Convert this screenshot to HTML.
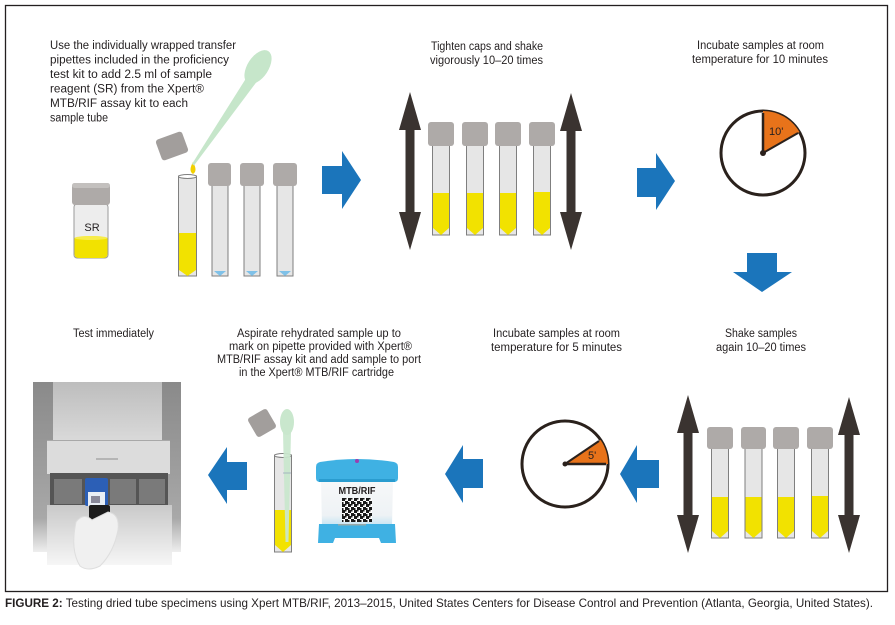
<!DOCTYPE html>
<html>
<head>
<meta charset="utf-8">
<style>
  html,body{margin:0;padding:0;background:#fff;}
  svg{display:block;}
  text{font-family:"Liberation Sans", sans-serif; fill:#231f20;}
</style>
</head>
<body>
<svg width="895" height="625" viewBox="0 0 895 625" xmlns="http://www.w3.org/2000/svg">
  <defs>
    <pattern id="qr" x="342" y="498" width="6" height="6" patternUnits="userSpaceOnUse">
      <rect width="6" height="6" fill="#fff"/>
      <rect x="0" y="0" width="3" height="3" fill="#1a1a1a"/>
      <rect x="3" y="3" width="3" height="3" fill="#1a1a1a"/>
      <rect x="3" y="0" width="1.5" height="1.5" fill="#1a1a1a"/>
      <rect x="0" y="4" width="1.5" height="2" fill="#1a1a1a"/>
    </pattern>
    <linearGradient id="lid" x1="0" y1="0" x2="0" y2="1">
      <stop offset="0" stop-color="#bdbdbd"/>
      <stop offset="1" stop-color="#d9d9d9"/>
    </linearGradient>
    <linearGradient id="lower" x1="0" y1="0" x2="0" y2="1">
      <stop offset="0" stop-color="#c9c9c9"/>
      <stop offset="1" stop-color="#f6f6f6"/>
    </linearGradient>
    <linearGradient id="side" x1="0" y1="0" x2="0" y2="1">
      <stop offset="0" stop-color="#8a8a8a"/>
      <stop offset="0.8" stop-color="#a8a8a8"/>
      <stop offset="1" stop-color="#eeeeee"/>
    </linearGradient>
    <linearGradient id="label" x1="0" y1="0" x2="0" y2="1">
      <stop offset="0" stop-color="#f7f8f9"/>
      <stop offset="0.75" stop-color="#eef2f5"/>
      <stop offset="1" stop-color="#bfe3f3"/>
    </linearGradient>
  </defs>

  <!-- frame -->
  <rect x="5.5" y="5.5" width="882" height="586" fill="none" stroke="#231f20" stroke-width="1.3"/>

  <!-- ============ TOP LEFT STEP ============ -->
  <g font-size="11.5">
    <text x="50" y="49" textLength="186" lengthAdjust="spacingAndGlyphs">Use the individually wrapped transfer</text>
    <text x="50" y="63.5" textLength="179" lengthAdjust="spacingAndGlyphs">pipettes included in the proficiency</text>
    <text x="50" y="78" textLength="162" lengthAdjust="spacingAndGlyphs">test kit to add 2.5 ml of sample</text>
    <text x="50" y="92.5" textLength="154" lengthAdjust="spacingAndGlyphs">reagent (SR) from the Xpert®</text>
    <text x="50" y="107" textLength="138" lengthAdjust="spacingAndGlyphs">MTB/RIF assay kit to each</text>
    <text x="50" y="121.5" textLength="58" lengthAdjust="spacingAndGlyphs">sample tube</text>
  </g>

  <!-- SR jar -->
  <rect x="74" y="204" width="34" height="54" rx="3" fill="#ededed" stroke="#9a9a9a" stroke-width="1"/>
  <path d="M74.5,238 Q91,234 107.5,238 L107.5,254 Q107.5,258 103,258 L79,258 Q74.5,258 74.5,254 Z" fill="#f2e200"/>
  <ellipse cx="91" cy="238" rx="16.5" ry="2" fill="#f7ec4a"/>
  <rect x="72" y="183" width="38" height="22" rx="3" fill="#aeaaa8"/>
  <rect x="72" y="183" width="38" height="5" rx="2.5" fill="#c3c0be"/>
  <text x="92" y="231" font-size="11" text-anchor="middle">SR</text>

  <!-- loose cap -->
  <g transform="rotate(-20 172 146)">
    <rect x="158" y="135" width="28" height="22" rx="3" fill="#a29e9c"/>
  </g>

  <!-- first open tube -->
  <rect x="178.5" y="176" width="18" height="100" fill="#e6e6e6" stroke="#7f7f7f" stroke-width="1"/>
  <path d="M179,233 L196,233 L196,270 L187.5,276 L179,270 Z" fill="#f2e200"/>
  <ellipse cx="187.5" cy="176.5" rx="9" ry="2" fill="#fff" stroke="#7f7f7f" stroke-width="1"/>
  <!-- drop -->
  <path d="M193,162 Q198,171 193,174 Q188,171 193,162 Z" fill="#f2d000"/>
  <!-- pipette -->
  <polygon points="256.5,82 247.5,76 192,164 194,165.5" fill="#c6e6ca"/>
  <ellipse cx="258" cy="67" rx="10.5" ry="19" transform="rotate(33 258 67)" fill="#c6e6ca"/>

  <!-- three capped empty tubes -->
  <g>
    <rect x="212" y="184" width="16" height="92" fill="#e6e6e6" stroke="#7f7f7f" stroke-width="1"/>
    <path d="M214,271 L226,271 L220,276 Z" fill="#7fc1e8"/>
    <rect x="208" y="163" width="23" height="23" rx="3" fill="#aeaaa8"/>
    <rect x="244" y="184" width="16" height="92" fill="#e6e6e6" stroke="#7f7f7f" stroke-width="1"/>
    <path d="M246,271 L258,271 L252,276 Z" fill="#7fc1e8"/>
    <rect x="240" y="163" width="24" height="23" rx="3" fill="#aeaaa8"/>
    <rect x="277" y="184" width="16" height="92" fill="#e6e6e6" stroke="#7f7f7f" stroke-width="1"/>
    <path d="M279,271 L291,271 L285,276 Z" fill="#7fc1e8"/>
    <rect x="273" y="163" width="24" height="23" rx="3" fill="#aeaaa8"/>
  </g>

  <!-- blue arrow 1 -->
  <polygon points="322,166 342,166 342,151 361,180 342,209 342,194 322,194" fill="#1b75bb"/>

  <!-- ============ TOP CENTER STEP ============ -->
  <g font-size="11.5">
    <text x="431" y="50" textLength="112" lengthAdjust="spacingAndGlyphs">Tighten caps and shake</text>
    <text x="430" y="64" textLength="113" lengthAdjust="spacingAndGlyphs">vigorously 10–20 times</text>
  </g>
  <!-- double arrows -->
  <polygon points="410,92 421,130 414.5,130 414.5,212 421,212 410,250 399,212 405.5,212 405.5,130 399,130" fill="#3a3330"/>
  <polygon points="571,93 582,131 575.5,131 575.5,212 582,212 571,250 560,212 566.5,212 566.5,131 560,131" fill="#3a3330"/>
  <!-- tubes -->
  <g>
    <rect x="432.5" y="145" width="17" height="90" fill="#e6e6e6" stroke="#7f7f7f" stroke-width="1"/>
    <path d="M433,193 L449,193 L449,228 L441,235 L433,228 Z" fill="#f2e200"/>
    <rect x="428" y="122" width="26" height="24" rx="3" fill="#aeaaa8"/>

    <rect x="466.5" y="145" width="17" height="90" fill="#e6e6e6" stroke="#7f7f7f" stroke-width="1"/>
    <path d="M467,193 L483,193 L483,228 L475,235 L467,228 Z" fill="#f2e200"/>
    <rect x="462" y="122" width="26" height="24" rx="3" fill="#aeaaa8"/>

    <rect x="499.5" y="145" width="17" height="90" fill="#e6e6e6" stroke="#7f7f7f" stroke-width="1"/>
    <path d="M500,193 L516,193 L516,228 L508,235 L500,228 Z" fill="#f2e200"/>
    <rect x="495" y="122" width="26" height="24" rx="3" fill="#aeaaa8"/>

    <rect x="533.5" y="145" width="17" height="90" fill="#e6e6e6" stroke="#7f7f7f" stroke-width="1"/>
    <path d="M534,192 L550,192 L550,228 L542,235 L534,228 Z" fill="#f2e200"/>
    <rect x="529" y="122" width="26" height="24" rx="3" fill="#aeaaa8"/>
  </g>

  <!-- blue arrow 2 -->
  <polygon points="637,168 656,168 656,153 675,181 656,210 656,197 637,197" fill="#1b75bb"/>

  <!-- ============ TOP RIGHT STEP ============ -->
  <g font-size="11.5">
    <text x="697" y="49" textLength="127" lengthAdjust="spacingAndGlyphs">Incubate samples at room</text>
    <text x="692" y="63" textLength="136" lengthAdjust="spacingAndGlyphs">temperature for 10 minutes</text>
  </g>
  <circle cx="763" cy="153" r="42" fill="#fff" stroke="#2a211c" stroke-width="3"/>
  <path d="M763,153 L763,111 A42,42 0 0 1 799.4,132 Z" fill="#e8731a"/>
  <line x1="763" y1="153" x2="763" y2="113" stroke="#2a211c" stroke-width="2.5"/>
  <line x1="763" y1="153" x2="798" y2="133" stroke="#2a211c" stroke-width="2"/>
  <circle cx="763" cy="153" r="3" fill="#2a211c"/>
  <text x="769" y="135" font-size="11">10'</text>

  <!-- down arrow -->
  <polygon points="747,253 777,253 777,272 792,272 762,292 733,272 747,272" fill="#1b75bb"/>

  <!-- ============ BOTTOM RIGHT STEP ============ -->
  <g font-size="11.5">
    <text x="725" y="337" textLength="72" lengthAdjust="spacingAndGlyphs">Shake samples</text>
    <text x="716" y="351" textLength="90" lengthAdjust="spacingAndGlyphs">again 10–20 times</text>
  </g>
  <polygon points="688,395 699,433 692.5,433 692.5,515 699,515 688,553 677,515 683.5,515 683.5,433 677,433" fill="#3a3330"/>
  <polygon points="849,397 860,435 853.5,435 853.5,515 860,515 849,553 838,515 844.5,515 844.5,435 838,435" fill="#3a3330"/>
  <g>
    <rect x="711.5" y="447" width="17" height="91" fill="#e6e6e6" stroke="#7f7f7f" stroke-width="1"/>
    <path d="M712,497 L728,497 L728,531 L720,538 L712,531 Z" fill="#f2e200"/>
    <rect x="707" y="427" width="26" height="22" rx="3" fill="#aeaaa8"/>

    <rect x="745" y="447" width="17" height="91" fill="#e6e6e6" stroke="#7f7f7f" stroke-width="1"/>
    <path d="M745.5,497 L761.5,497 L761.5,531 L753.5,538 L745.5,531 Z" fill="#f2e200"/>
    <rect x="741" y="427" width="25" height="22" rx="3" fill="#aeaaa8"/>

    <rect x="777.5" y="447" width="17" height="91" fill="#e6e6e6" stroke="#7f7f7f" stroke-width="1"/>
    <path d="M778,497 L794,497 L794,531 L786,538 L778,531 Z" fill="#f2e200"/>
    <rect x="773" y="427" width="26" height="22" rx="3" fill="#aeaaa8"/>

    <rect x="811.5" y="447" width="17" height="91" fill="#e6e6e6" stroke="#7f7f7f" stroke-width="1"/>
    <path d="M812,496 L828,496 L828,531 L820,538 L812,531 Z" fill="#f2e200"/>
    <rect x="807" y="427" width="26" height="22" rx="3" fill="#aeaaa8"/>
  </g>

  <!-- blue arrow bottom right (left-pointing) -->
  <polygon points="620,474 637,445 637,460 659,460 659,488 637,488 637,503" fill="#1b75bb"/>

  <!-- ============ BOTTOM MIDDLE-RIGHT STEP ============ -->
  <g font-size="11.5">
    <text x="493" y="337" textLength="127" lengthAdjust="spacingAndGlyphs">Incubate samples at room</text>
    <text x="491" y="351" textLength="131" lengthAdjust="spacingAndGlyphs">temperature for 5 minutes</text>
  </g>
  <circle cx="565" cy="464" r="43" fill="#fff" stroke="#2a211c" stroke-width="3"/>
  <path d="M565,464 L608,464 A43,43 0 0 0 600.6,440 Z" fill="#e8731a"/>
  <line x1="565" y1="464" x2="599" y2="441" stroke="#2a211c" stroke-width="2"/>
  <line x1="565" y1="464" x2="606" y2="464" stroke="#2a211c" stroke-width="2.5"/>
  <circle cx="565" cy="464" r="2.5" fill="#2a211c"/>
  <text x="588" y="459" font-size="11">5'</text>

  <!-- blue arrow bottom middle -->
  <polygon points="445,474 463,445 463,459 483,459 483,488 463,488 463,503" fill="#1b75bb"/>

  <!-- ============ BOTTOM MIDDLE-LEFT STEP ============ -->
  <g font-size="11.5">
    <text x="237" y="337" textLength="164" lengthAdjust="spacingAndGlyphs">Aspirate rehydrated sample up to</text>
    <text x="229" y="350" textLength="183" lengthAdjust="spacingAndGlyphs">mark on pipette provided with Xpert®</text>
    <text x="217" y="363" textLength="204" lengthAdjust="spacingAndGlyphs">MTB/RIF assay kit and add sample to port</text>
    <text x="239" y="376" textLength="155" lengthAdjust="spacingAndGlyphs">in the Xpert® MTB/RIF cartridge</text>
  </g>
  <!-- cap -->
  <g transform="rotate(-30 262 423)">
    <rect x="251" y="412" width="22" height="22" rx="3" fill="#a29e9c"/>
  </g>
  <!-- tube -->
  <rect x="274.5" y="455" width="17" height="97" fill="#e6e6e6" stroke="#7f7f7f" stroke-width="1"/>
  <path d="M275,510 L291,510 L291,545 L283,552 L275,545 Z" fill="#f2e200"/>
  <ellipse cx="283" cy="455.5" rx="8.5" ry="2" fill="#fff" stroke="#7f7f7f" stroke-width="1"/>
  <!-- pipette -->
  <polygon points="283,432 291,432 288.5,542 285.5,542" fill="#c9e7cd" opacity="0.92"/>
  <ellipse cx="287" cy="422" rx="7" ry="13" fill="#c9e7cd"/>
  <line x1="283" y1="473" x2="291" y2="473" stroke="#9ab" stroke-width="0.8"/>

  <!-- cartridge -->
  <path d="M321,480 L393,480 L392,527 L322,527 Z" fill="url(#label)"/>
  <path d="M320,462 Q357,456 394,462 Q398,463 398,467 L398,478 Q398,482 394,482 L320,482 Q316,482 316,478 L316,467 Q316,463 320,462 Z" fill="#3fb1e3"/>
  <rect x="319" y="479" width="76" height="3" fill="#2a9ccf"/>
  <circle cx="357" cy="461" r="2" fill="#9a3fb0"/>
  <path d="M319,524 L395,524 L396,543 L381,543 L379,538 L335,538 L333,543 L318,543 Z" fill="#3fb1e3"/>
  <text x="357" y="494" font-size="10.5" font-weight="bold" text-anchor="middle" fill="#333" textLength="37" lengthAdjust="spacingAndGlyphs">MTB/RIF</text>
  <rect x="342" y="498" width="30" height="24" fill="url(#qr)"/>
  <rect x="338" y="524" width="28" height="1.5" fill="#9aa"/>

  <!-- blue arrow bottom left -->
  <polygon points="208,475 227,447 227,462 247,462 247,490 227,490 227,504" fill="#1b75bb"/>

  <!-- ============ BOTTOM LEFT STEP ============ -->
  <text x="73" y="337" font-size="11.5" textLength="81" lengthAdjust="spacingAndGlyphs">Test immediately</text>
  <!-- machine -->
  <rect x="33" y="382" width="20" height="170" fill="url(#side)"/>
  <rect x="162" y="382" width="19" height="170" fill="url(#side)"/>
  <rect x="53" y="382" width="109" height="58" fill="url(#lid)"/>
  <path d="M47,440 L170,440 L170,474 L47,474 Z" fill="#dcdcdc"/>
  <line x1="47" y1="440.5" x2="170" y2="440.5" stroke="#a8a8a8" stroke-width="1"/>
  <rect x="96" y="458" width="22" height="2" fill="#b5b5b5"/>
  <rect x="50" y="473" width="118" height="33" fill="#555"/>
  <rect x="54" y="479" width="28" height="25" fill="#7a7a7a"/>
  <rect x="110" y="479" width="26" height="25" fill="#7a7a7a"/>
  <rect x="139" y="479" width="26" height="25" fill="#7a7a7a"/>
  <rect x="47" y="505" width="125" height="60" fill="url(#lower)"/>
  <!-- cartridge in hand -->
  <rect x="85" y="478" width="23" height="28" rx="2" fill="#2c5fb6"/>
  <rect x="88" y="492" width="17" height="14" fill="#e8eef5"/>
  <rect x="91" y="496" width="9" height="7" fill="#889"/>
  <rect x="89" y="505" width="21" height="24" rx="2" fill="#1c1c1c"/>
  <path d="M76,522 Q84,512 92,520 L108,512 Q120,514 118,530 Q114,552 100,566 Q88,572 80,566 Q70,550 76,522 Z" fill="#f0f0f0" stroke="#dedede" stroke-width="1"/>

  <!-- caption -->
  <text x="5" y="607" font-size="12" textLength="868" lengthAdjust="spacingAndGlyphs"><tspan font-weight="bold">FIGURE 2:</tspan> Testing dried tube specimens using Xpert MTB/RIF, 2013–2015, United States Centers for Disease Control and Prevention (Atlanta, Georgia, United States).</text>
</svg>
</body>
</html>
